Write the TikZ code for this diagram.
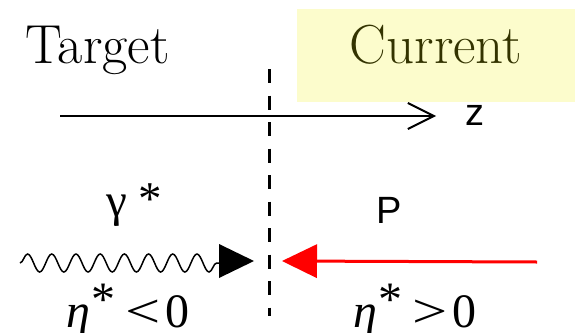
\documentclass[tikz,border=0pt]{standalone}
\usepackage{fontspec}
\usepackage{graphicx}
\newfontfamily\tnr{Liberation Serif}
\newfontfamily\arial{Liberation Sans}
\usetikzlibrary{decorations.pathmorphing,arrows.meta}
\definecolor{boxyellow}{RGB}{252,252,204}
\definecolor{darkolive}{RGB}{51,51,0}
\tikzset{
  bigtitle/.style={font=\fontsize{55}{55}\selectfont, inner sep=0pt, anchor=base},
  sanslabel/.style={font=\arial\fontsize{38}{38}\selectfont, inner sep=0pt},
  etalabel/.style={font=\tnr\fontsize{48}{48}\selectfont, inner sep=0pt, anchor=base west},
  bigtri/.style={-{Triangle[length=35pt,width=34pt,line width=0pt]}},
}
\begin{document}
\begin{tikzpicture}[x=1pt,y=-1pt]
\useasboundingbox (0,0) rectangle (575,332);
% yellow box
\fill[boxyellow] (297,9) rectangle (575,102);
% titles
\node[bigtitle] (target) at (97.5,63) {Target};
\node[bigtitle, text=darkolive] (current) at (436,63) {Current};
% z axis
\coordinate (zs) at (60,116);
\coordinate (ze) at (436,116);
\draw[line width=2pt, -{Straight Barb[length=26pt,width=26pt,line width=2pt]}] (zs) -- (ze);
\node[sanslabel] (z) at (475,115) {z};
% dashed separator
\coordinate (dtop) at (269,69);
\coordinate (dbot) at (269,316);
\draw[line width=3pt, dash pattern=on 14pt off 12.5pt] (dtop) -- (dbot);
% photon
\node[font=\tnr\fontsize{47}{47}\selectfont, inner sep=0pt, anchor=base west] (gamma) at (106,216) {γ\hspace{12pt}\raisebox{2pt}{*}};
\coordinate (w0) at (20,263);
\coordinate (w1) at (219,263);
\coordinate (wtip) at (254,261);
\draw[line width=1.5pt, decorate, decoration={snake, segment length=24.2pt, amplitude=9pt}] (w0) -- (w1);
\draw[bigtri] (w1 |- wtip) -- (wtip);
% proton
\node[sanslabel, anchor=base west] (p) at (376,223) {P};
\coordinate (rs) at (537,262);
\coordinate (rt) at (282,261);
\draw[red, line width=3pt, bigtri] (rs) -- (rt);
% eta labels
\node[etalabel] (etaneg) at (66,327) {\itshape η\upshape\hspace{1pt}\raisebox{12pt}{*}\hspace{10pt}\scalebox{1.3}[1]{<}\hspace{5pt}0};
\node[etalabel] (etapos) at (353,327) {\itshape η\upshape\hspace{1pt}\raisebox{12pt}{*}\hspace{10pt}\scalebox{1.3}[1]{>}\hspace{5pt}0};
\end{tikzpicture}
\end{document}
